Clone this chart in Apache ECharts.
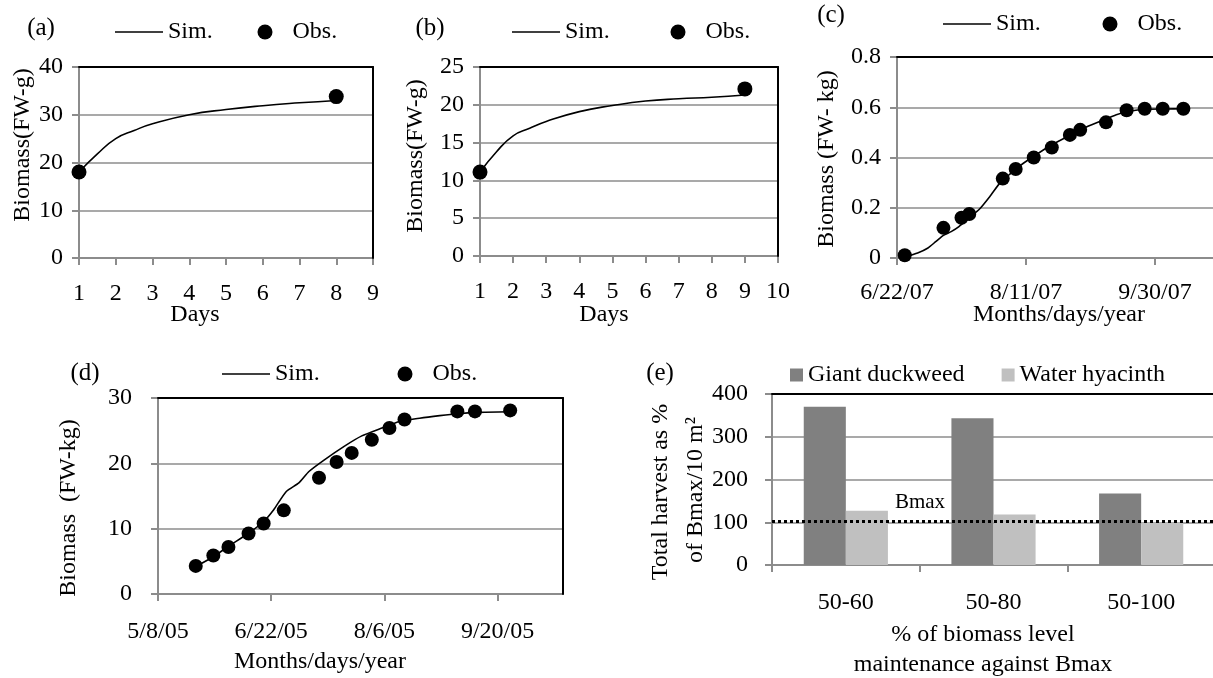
<!DOCTYPE html>
<html><head><meta charset="utf-8">
<script src="https://cdn.jsdelivr.net/npm/echarts@6/dist/echarts.min.js"></script>
<style>html,body{margin:0;padding:0;background:#fff}#c{width:1213px;height:678px}</style>
</head><body><div id="c"></div>
<script>
// ---------------- data ----------------
// (a)
const aSimDays = [1, 1.5, 2, 2.5, 3, 4, 5, 6, 7, 8];
const aSimValues = [18, 21.8, 25, 26.7, 28.1, 30, 31.1, 31.9, 32.5, 33];
const aObsDays = [1, 8];
const aObsValues = [18, 33.8];
// (b)
const bSimDays = [1, 1.5, 2, 2.5, 3, 4, 5, 6, 7, 8, 9];
const bSimValues = [11.1, 13.8, 15.9, 16.9, 17.8, 19.1, 19.9, 20.5, 20.8, 21.0, 21.3];
const bObsDays = [1, 9];
const bObsValues = [11.1, 22.1];
// (c)
const cStartDate = '6/22/07';
const cSimDates = ['6/25/07','6/30/07','7/4/07','7/7/07','7/10/07','7/13/07','7/16/07','7/20/07','7/24/07','7/28/07','8/1/07','8/5/07','8/9/07','8/14/07','8/20/07','8/27/07','9/2/07','9/9/07','9/15/07','9/20/07','9/27/07','10/4/07','10/11/07'];
const cSimValues = [0.004,0.02,0.04,0.065,0.09,0.105,0.125,0.16,0.195,0.245,0.30,0.336,0.37,0.405,0.445,0.483,0.515,0.545,0.57,0.584,0.592,0.593,0.594];
const cObsDates = ['6/25/07','7/10/07','7/17/07','7/20/07','8/2/07','8/7/07','8/14/07','8/21/07','8/28/07','9/1/07','9/11/07','9/19/07','9/26/07','10/3/07','10/11/07'];
const cObsValues = [0.011,0.12,0.16,0.175,0.316,0.354,0.40,0.44,0.49,0.51,0.54,0.588,0.594,0.594,0.594];
// (d)
const dStartDate = '5/8/05';
const dSimDates = ['5/23/05','5/30/05','6/5/05','6/13/05','6/19/05','6/23/05','6/28/05','7/3/05','7/7/05','7/13/05','7/21/05','7/28/05','8/5/05','8/12/05','8/20/05','8/28/05','9/4/05','9/12/05','9/25/05'];
const dSimValues = [4.2,5.7,7.3,9.3,11.1,12.9,15.7,17.0,18.75,20.5,22.6,24.2,25.4,26.4,26.9,27.3,27.6,27.8,27.9];
const dObsDates = ['5/23/05','5/30/05','6/5/05','6/13/05','6/19/05','6/27/05','7/11/05','7/18/05','7/24/05','8/1/05','8/8/05','8/14/05','9/4/05','9/11/05','9/25/05'];
const dObsValues = [4.3,5.9,7.2,9.25,10.8,12.8,17.8,20.2,21.6,23.6,25.4,26.7,27.95,27.95,28.1];
// (e)
const eCategories = ['50-60', '50-80', '50-100'];
const eDuckweed = [370, 343, 167];
const eHyacinth = [127, 118, 99];
const eBmax = 103;

// ---------------- helpers ----------------
const FONT = '"Liberation Serif", "Times New Roman", serif';
const GRAY = '#8c8c8c';
function toUTC(s) { const p = s.split('/').map(Number); return Date.UTC(2000 + p[2], p[0] - 1, p[1]); }
function dayOffset(start, s) { return Math.round((toUTC(s) - toUTC(start)) / 864e5); }
function dayLabel(start, days) {
  const dt = new Date(toUTC(start) + days * 864e5);
  return (dt.getUTCMonth() + 1) + '/' + dt.getUTCDate() + '/' + String(dt.getUTCFullYear() % 100).padStart(2, '0');
}
function zip(xs, ys) { return xs.map((x, i) => [x, ys[i]]); }
function zipDates(start, ds, ys) { return ds.map((d, i) => [dayOffset(start, d), ys[i]]); }

const labelStyle = { fontFamily: FONT, fontSize: 24, color: '#000' };
function bottomAxis(grid, opt) {
  return Object.assign({
    gridIndex: grid, type: 'value', position: 'bottom',
    axisLine: { show: true, onZero: false, lineStyle: { color: GRAY, width: 2 } },
    axisTick: { show: true, length: 7, lineStyle: { color: GRAY, width: 2 } },
    splitLine: { show: false },
    axisLabel: Object.assign({ margin: 24 }, labelStyle)
  }, opt);
}
function leftAxis(grid, opt) {
  return Object.assign({
    gridIndex: grid, type: 'value', position: 'left',
    axisLine: { show: true, onZero: false, lineStyle: { color: GRAY, width: 2 } },
    axisTick: { show: true, length: 7, lineStyle: { color: GRAY, width: 2 } },
    splitLine: { show: true, showMinLine: false, showMaxLine: false, lineStyle: { color: GRAY, width: 1.5 } },
    axisLabel: Object.assign({ margin: 16 }, labelStyle)
  }, opt);
}
function topAxis(grid) {
  return { gridIndex: grid, type: 'value', position: 'top', min: 0, max: 1, z: 5,
    axisLine: { show: true, onZero: false, lineStyle: { color: '#000', width: 2 } },
    axisTick: { show: false }, axisLabel: { show: false }, splitLine: { show: false } };
}
function rightAxis(grid) {
  return { gridIndex: grid, type: 'value', position: 'right', min: 0, max: 1, z: 5,
    axisLine: { show: true, onZero: false, lineStyle: { color: '#000', width: 2 } },
    axisTick: { show: false }, axisLabel: { show: false }, splitLine: { show: false } };
}
function simSeries(i, data, smooth) {
  return { name: 'Sim.', type: 'line', xAxisIndex: i, yAxisIndex: i, data: data, symbol: 'none',
    smooth: smooth, lineStyle: { color: '#000', width: 1.6 }, itemStyle: { color: '#000' }, z: 3 };
}
function obsSeries(i, data, size) {
  return { name: 'Obs.', type: 'scatter', xAxisIndex: i, yAxisIndex: i, data: data, symbol: 'circle',
    symbolSize: size, itemStyle: { color: '#000', opacity: 1 }, z: 4 };
}
const legendText = { fontFamily: FONT, fontSize: 24, color: '#000' };
function simLegend(left, top) {
  return { data: [{ name: 'Sim.', icon: 'path://M0 0H100V3H0Z' }], left: left, top: top, padding: 0,
    itemWidth: 48, itemHeight: 15, selectedMode: false, textStyle: legendText };
}
function obsLegend(dotX, top) {
  return { data: [{ name: 'Obs.', icon: 'circle' }], left: dotX - 7.5, top: top, padding: 0,
    itemWidth: 15, itemHeight: 15, selectedMode: false,
    textStyle: Object.assign({ padding: [0, 0, 0, 15] }, legendText) };
}
function txt(text, x, y, size, rot) {
  return { type: 'text', x: x, y: y, rotation: rot ? Math.PI / 2 : 0,
    style: { text: text, fill: '#000', font: size + 'px ' + FONT, align: 'center', verticalAlign: 'middle' } };
}
const G = { outerBoundsMode: 'none', containLabel: false };

const option = {
  backgroundColor: '#fff',
  animation: false,
  grid: [
    Object.assign({ left: 79, top: 67, width: 294, height: 191 }, G),
    Object.assign({ left: 480, top: 67, width: 298, height: 189 }, G),
    Object.assign({ left: 897, top: 57, width: 387, height: 201 }, G),
    Object.assign({ left: 158, top: 398, width: 405, height: 196 }, G),
    Object.assign({ left: 772, top: 394, width: 443, height: 171 }, G)
  ],
  xAxis: [
    bottomAxis(0, { min: 1, max: 9, interval: 1 }),
    bottomAxis(1, { min: 1, max: 10, interval: 1 }),
    bottomAxis(2, { min: 0, max: 150, interval: 50, axisLabel: Object.assign({ margin: 23, showMaxLabel: false,
      formatter: v => dayLabel(cStartDate, v) }, labelStyle) }),
    bottomAxis(3, { min: 0, max: 161, interval: 45, axisLabel: Object.assign({ margin: 26, showMaxLabel: false,
      formatter: v => (v % 45 === 0 ? dayLabel(dStartDate, v) : '') }, labelStyle) }),
    bottomAxis(4, { type: 'category', data: eCategories, axisTick: { show: true, length: 7, alignWithLabel: false,
      lineStyle: { color: GRAY, width: 2 } }, axisLabel: Object.assign({ margin: 26 }, labelStyle) }),
    topAxis(0), topAxis(1), topAxis(2), topAxis(3), topAxis(4)
  ],
  yAxis: [
    leftAxis(0, { min: 0, max: 40, interval: 10 }),
    leftAxis(1, { min: 0, max: 25, interval: 5 }),
    leftAxis(2, { min: 0, max: 0.8, interval: 0.2 }),
    leftAxis(3, { min: 0, max: 30, interval: 10, axisLabel: Object.assign({ margin: 26 }, labelStyle) }),
    leftAxis(4, { min: 0, max: 400, interval: 100, axisLabel: Object.assign({ margin: 24 }, labelStyle) }),
    rightAxis(0), rightAxis(1), rightAxis(2), rightAxis(3), rightAxis(4)
  ],
  legend: [
    simLegend(115, 20), obsLegend(265, 20),
    simLegend(512, 20), obsLegend(678, 20),
    simLegend(943, 12), obsLegend(1110, 12),
    simLegend(222, 362), obsLegend(405, 362),
    { data: ['Giant duckweed', 'Water hyacinth'], left: 790, top: 363, padding: 0, itemWidth: 13, itemHeight: 13,
      itemGap: 37, icon: 'rect', selectedMode: false, textStyle: legendText }
  ],
  series: [
    simSeries(0, zip(aSimDays, aSimValues), true),
    obsSeries(0, zip(aObsDays, aObsValues), 15),
    simSeries(1, zip(bSimDays, bSimValues), true),
    obsSeries(1, zip(bObsDays, bObsValues), 15),
    simSeries(2, zipDates(cStartDate, cSimDates, cSimValues), 0.2),
    obsSeries(2, zipDates(cStartDate, cObsDates, cObsValues), 14),
    simSeries(3, zipDates(dStartDate, dSimDates, dSimValues), 0.2),
    obsSeries(3, zipDates(dStartDate, dObsDates, dObsValues), 14),
    { name: 'Giant duckweed', type: 'bar', xAxisIndex: 4, yAxisIndex: 4, data: eDuckweed,
      barGap: '0%', barCategoryGap: '43%', itemStyle: { color: '#808080' },
      markLine: { symbol: 'none', silent: true, label: { show: false },
        lineStyle: { color: '#000', type: [3, 3], width: 3 }, data: [{ yAxis: eBmax }] } },
    { name: 'Water hyacinth', type: 'bar', xAxisIndex: 4, yAxisIndex: 4, data: eHyacinth,
      barGap: '0%', barCategoryGap: '43%', itemStyle: { color: '#c0c0c0' } }
  ],
  graphic: [
    txt('(a)', 41, 28, 25), txt('(b)', 430, 28, 25), txt('(c)', 831, 15, 25),
    txt('(d)', 85, 373, 25), txt('(e)', 660, 373, 25),
    txt('Days', 195, 315, 24), txt('Days', 604, 315, 24),
    txt('Months/days/year', 1059, 315, 24), txt('Months/days/year', 320, 662, 24),
    txt('% of biomass level', 983, 635, 24), txt('maintenance against Bmax', 983, 665, 24),
    txt('Biomass(FW-g)', 23, 145, 24, true), txt('Biomass(FW-g)', 416, 156, 24, true),
    txt('Biomass (FW- kg)', 827, 159, 24, true), txt('Biomass  (FW-kg)', 69, 508, 24, true),
    txt('Total harvest as %', 661, 492, 24, true), txt('of Bmax/10 m²', 696, 490, 24, true),
    txt('Bmax', 920, 502, 21)
  ]
};
const chart = echarts.init(document.getElementById('c'), null, { renderer: 'canvas' });
chart.setOption(option);
</script></body></html>
